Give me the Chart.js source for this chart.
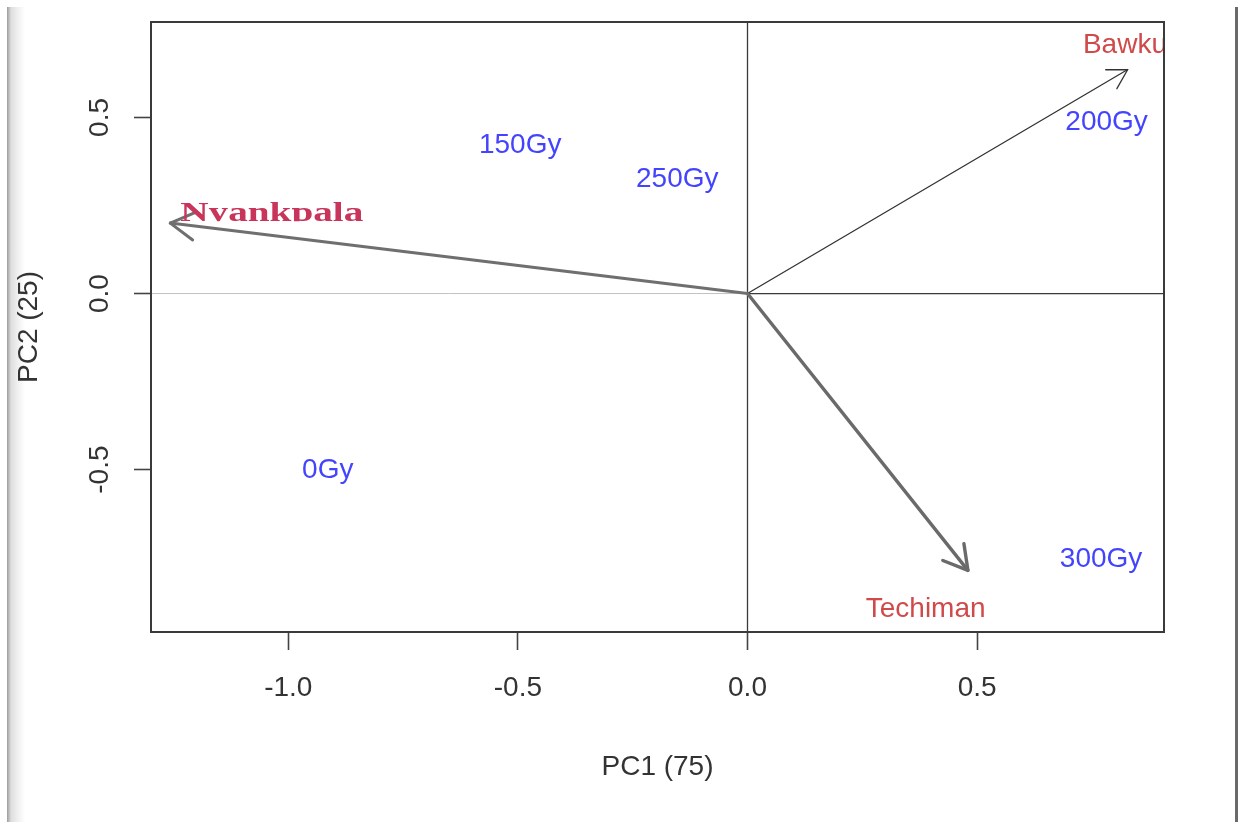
<!DOCTYPE html>
<html>
<head>
<meta charset="utf-8">
<title>PCA biplot – location × dose</title>
<script src="https://cdn.jsdelivr.net/npm/chart.js@4.4.1/dist/chart.umd.min.js"></script>
<style>
  html, body { margin: 0; padding: 0; background: #fff; }
  #wrap { position: relative; width: 1244px; height: 822px; background: #fff; overflow: hidden; }
  #c { position: absolute; left: 0; top: 0; z-index: 2; }
  .edge-left {
    position: absolute; left: 7px; top: 7px; width: 18px; height: 815px; z-index: 1;
    background: linear-gradient(to right, #9c9c9c 0px, #bdbdbd 2px, #dedede 4px, #eeeeee 10px, #ffffff 18px);
  }
  .edge-right { position: absolute; left: 1235px; top: 7px; width: 3px; height: 815px; z-index: 1; background: #6a6a6a; }
</style>
</head>
<body>
<div id="wrap">
  <div class="edge-left"></div>
  <div class="edge-right"></div>
  <canvas id="c" width="1244" height="822"></canvas>
</div>
<script>
// Axis extents and tick values (PC scores)
const xRange = [-1.299, 0.907];
const yRange = [-0.961, 0.771];
const xTicks = [-1.0, -0.5, 0.0, 0.5];
const yTicks = [-0.5, 0.0, 0.5];

// Dose treatments (observations)
const treatments   = ['0Gy', '150Gy', '200Gy', '250Gy', '300Gy'];
const treatmentPC1 = [-0.914, -0.495, 0.782, -0.153, 0.770];
const treatmentPC2 = [-0.496, 0.427, 0.492, 0.330, -0.749];

// Locations (variable loadings drawn as arrows)
const locations     = ['Nyankpala', 'Bawku', 'Techiman'];
const loadingPC1    = [-1.257, 0.828, 0.480];
const loadingPC2    = [0.200, 0.636, -0.786];
const locLabelPC1   = [-1.036, 0.822, 0.388];
const locLabelPC2   = [0.235, 0.710, -0.890];

const SANS = "'Liberation Sans', Arial, Helvetica, sans-serif";
const SERIF = "'Liberation Serif', 'Times New Roman', serif";
const AXIS_COL = '#333333';

Chart.defaults.font.family = SANS;

const arrowLook = {
  Nyankpala: { color: '#6f6f6f', width: 3, head: 28 },
  Bawku:     { color: '#333333', width: 1.3, head: 22 },
  Techiman:  { color: '#6a6a6a', width: 3.4, head: 27 }
};

const datasets = locations.map((name, i) => ({
  label: name,
  data: [{ x: 0, y: 0 }, { x: loadingPC1[i], y: loadingPC2[i] }],
  showLine: true,
  borderColor: arrowLook[name].color,
  borderWidth: arrowLook[name].width,
  pointRadius: 0,
  pointHoverRadius: 0,
  fill: false,
  borderCapStyle: 'round'
}));

datasets.push({
  label: 'treatments',
  data: treatments.map((t, i) => ({ x: treatmentPC1[i], y: treatmentPC2[i] })),
  showLine: false,
  pointRadius: 0,
  pointHoverRadius: 0
});

function seg(ctx, x1, y1, x2, y2) {
  ctx.beginPath(); ctx.moveTo(x1, y1); ctx.lineTo(x2, y2); ctx.stroke();
}

const biplotDecor = {
  id: 'biplotDecor',
  beforeDatasetsDraw(chart) {
    const { ctx, chartArea: a, scales: { x, y } } = chart;
    const x0 = x.getPixelForValue(0), y0 = y.getPixelForValue(0);
    ctx.save();
    ctx.fillStyle = '#ffffff';
    ctx.fillRect(a.left, a.top, a.right - a.left, a.bottom - a.top);
    ctx.lineWidth = 1;
    ctx.strokeStyle = '#c2c2c2';
    seg(ctx, a.left, y0, x0, y0);
    ctx.strokeStyle = '#3a3a3a';
    ctx.lineWidth = 1.3;
    seg(ctx, x0, y0, a.right, y0);
    seg(ctx, x0, a.top, x0, a.bottom);
    ctx.restore();
  },
  afterDatasetsDraw(chart) {
    const { ctx, chartArea: a, scales: { x, y } } = chart;

    // arrowheads on the loading vectors
    locations.forEach((name, i) => {
      const pts = chart.getDatasetMeta(i).data;
      const p0 = pts[0], p1 = pts[1];
      const look = arrowLook[name];
      const ang = Math.atan2(p0.y - p1.y, p0.x - p1.x);
      const spread = Math.PI / 6;
      ctx.save();
      ctx.beginPath();
      ctx.rect(a.left, a.top, a.right - a.left, a.bottom - a.top);
      ctx.clip();
      ctx.strokeStyle = look.color;
      ctx.lineWidth = look.width;
      ctx.lineCap = 'round';
      ctx.lineJoin = 'round';
      ctx.beginPath();
      ctx.moveTo(p1.x + look.head * Math.cos(ang + spread), p1.y + look.head * Math.sin(ang + spread));
      ctx.lineTo(p1.x, p1.y);
      ctx.lineTo(p1.x + look.head * Math.cos(ang - spread), p1.y + look.head * Math.sin(ang - spread));
      ctx.stroke();
      ctx.restore();
    });

    // treatment labels
    const tMeta = chart.getDatasetMeta(locations.length).data;
    ctx.save();
    ctx.beginPath();
    ctx.rect(a.left, a.top, a.right - a.left, a.bottom - a.top);
    ctx.clip();
    ctx.font = '28px ' + SANS;
    ctx.fillStyle = '#4444ff';
    ctx.textAlign = 'center';
    ctx.textBaseline = 'alphabetic';
    treatments.forEach((t, i) => {
      ctx.fillText(t, tMeta[i].x, tMeta[i].y + 10);
    });

    // location labels
    locations.forEach((name, i) => {
      const px = x.getPixelForValue(locLabelPC1[i]);
      const py = y.getPixelForValue(locLabelPC2[i]);
      if (name === 'Nyankpala') {
        ctx.save();
        ctx.font = 'bold 28px ' + SERIF;
        ctx.fillStyle = '#c8345a';
        const base = py + 10;
        ctx.beginPath();
        ctx.rect(a.left, a.top, a.right - a.left, base + 0.5 - a.top);
        ctx.clip();
        ctx.translate(px, base);
        ctx.scale(1.4, 1);
        ctx.textAlign = 'center';
        ctx.fillText(name, 0, 0);
        ctx.restore();
      } else {
        ctx.font = '28px ' + SANS;
        ctx.fillStyle = '#d04a4a';
        ctx.fillText(name, px, py + 10);
      }
    });
    ctx.restore();

    // plot frame
    ctx.save();
    ctx.strokeStyle = '#3a3a3a';
    ctx.lineWidth = 2;
    ctx.strokeRect(a.left, a.top, a.right - a.left, a.bottom - a.top);
    ctx.restore();

    // vertical-axis tick labels, read bottom to top
    ctx.save();
    ctx.font = '28px ' + SANS;
    ctx.fillStyle = AXIS_COL;
    ctx.textAlign = 'center';
    ctx.textBaseline = 'alphabetic';
    yTicks.forEach(v => {
      ctx.save();
      ctx.translate(98, y.getPixelForValue(v));
      ctx.rotate(-Math.PI / 2);
      ctx.fillText(v.toFixed(1), 0, 10);
      ctx.restore();
    });
    ctx.restore();
  }
};

new Chart(document.getElementById('c'), {
  type: 'scatter',
  data: { datasets },
  options: {
    responsive: false,
    animation: false,
    events: [],
    layout: { padding: { left: 0, top: 22, right: 80, bottom: 0 } },
    plugins: { legend: { display: false }, tooltip: { enabled: false } },
    scales: {
      x: {
        type: 'linear',
        min: xRange[0],
        max: xRange[1],
        afterBuildTicks: s => { s.ticks = xTicks.map(v => ({ value: v })); },
        afterFit: s => { s.height = 190; },
        border: { display: false },
        grid: { drawOnChartArea: false, drawTicks: true, tickLength: 18, tickColor: '#444', tickWidth: 1.6 },
        ticks: {
          font: { size: 28, family: SANS },
          color: AXIS_COL,
          padding: 21,
          maxRotation: 0,
          autoSkip: false,
          callback: v => Number(v).toFixed(1)
        },
        title: {
          display: true,
          text: 'PC1 (75)',
          font: { size: 28, family: SANS },
          color: AXIS_COL,
          padding: { top: 0, bottom: 38 }
        }
      },
      y: {
        type: 'linear',
        min: yRange[0],
        max: yRange[1],
        afterBuildTicks: s => { s.ticks = yTicks.map(v => ({ value: v })); },
        afterFit: s => { s.width = 151; },
        border: { display: false },
        grid: { drawOnChartArea: false, drawTicks: true, tickLength: 17, tickColor: '#444', tickWidth: 1.6 },
        ticks: { display: false },
        title: {
          display: true,
          text: 'PC2 (25)',
          font: { size: 28, family: SANS },
          color: AXIS_COL,
          padding: { top: 12, bottom: 0 }
        }
      }
    }
  },
  plugins: [biplotDecor]
});
</script>
</body>
</html>
